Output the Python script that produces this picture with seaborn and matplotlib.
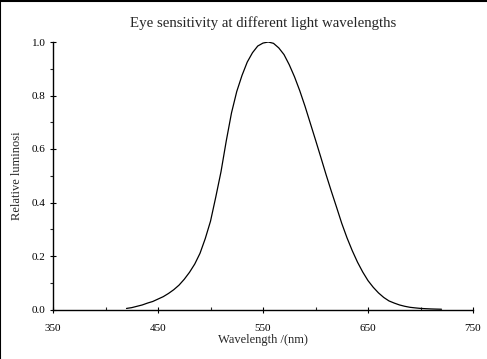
import numpy as np
import pandas as pd
import matplotlib
matplotlib.use("Agg")
import matplotlib.pyplot as plt
from matplotlib.lines import Line2D
import seaborn as sns

# Values (every 5 nm)
wavelength = [420, 425, 430, 435, 440, 445, 450, 455, 460, 465, 470, 475, 480,
              485, 490, 495, 500, 505, 510, 515, 520, 525, 530, 535, 540, 545,
              550, 555, 560, 565, 570, 575, 580, 585, 590, 595, 600, 605, 610,
              615, 620, 625, 630, 635, 640, 645, 650, 655, 660, 665, 670, 675,
              680, 685, 690, 695, 700, 705, 710, 715, 720]
luminosity = [0.004, 0.007, 0.012, 0.017, 0.024, 0.030, 0.039, 0.048, 0.060,
              0.074, 0.091, 0.113, 0.139, 0.170, 0.210, 0.265, 0.330, 0.420,
              0.515, 0.630, 0.735, 0.815, 0.875, 0.925, 0.960, 0.985, 0.996,
              1.000, 0.995, 0.978, 0.953, 0.915, 0.870, 0.818, 0.760, 0.697,
              0.634, 0.570, 0.505, 0.443, 0.383, 0.322, 0.268, 0.220, 0.177,
              0.140, 0.108, 0.083, 0.062, 0.045, 0.032, 0.024, 0.017, 0.012,
              0.0082, 0.006, 0.0041, 0.003, 0.0021, 0.0015, 0.001]

x_ticks = [350, 450, 550, 650, 750]
y_ticks = [0.0, 0.2, 0.4, 0.6, 0.8, 1.0]

df = pd.DataFrame({"Wavelength": wavelength, "Luminosity": luminosity})

sns.set_style("ticks")
plt.rcParams['font.family'] = ['Liberation Serif', 'DejaVu Serif']

fig = plt.figure(figsize=(4.87, 3.59), dpi=100)
ax = fig.add_axes([53 / 487, 49.5 / 359, 420 / 487, 267.5 / 359])

sns.lineplot(data=df, x="Wavelength", y="Luminosity", color="black",
             linewidth=0.9, ax=ax)

ax.set_xlim(350, 750)
ax.set_ylim(0, 1.0)
ax.set_xticks(x_ticks)
ax.set_yticks(y_ticks)
ax.set_xticklabels([str(t) for t in x_ticks])
ax.set_yticklabels([f"{t:.1f}" for t in y_ticks])
ax.set_xticks([400, 500, 600, 700], minor=True)
ax.set_yticks([0.1, 0.3, 0.5, 0.7, 0.9], minor=True)

ax.tick_params(axis="x", which="major", direction="inout", length=5, width=0.8,
               labelsize=8, pad=8, colors="black")
ax.tick_params(axis="x", which="minor", direction="in", length=2.5, width=0.8)
ax.tick_params(axis="y", which="major", direction="inout", length=5, width=0.8,
               labelsize=8, pad=3, colors="black")
ax.tick_params(axis="y", which="minor", direction="out", length=2, width=0.8)

sns.despine(ax=ax)
for s in ["left", "bottom"]:
    ax.spines[s].set_linewidth(1.0)
    ax.spines[s].set_color("black")

ax.set_xlabel("Wavelength /(nm)", fontsize=9, labelpad=1)
ax.set_ylabel("Relative luminosi", fontsize=9, labelpad=6)
ax.set_title("Eye sensitivity at different light wavelengths", fontsize=10.7,
             pad=11)

# frame lines at the top and left edge of the picture
fig.add_artist(Line2D([0.001, 0.001], [0, 1], transform=fig.transFigure,
                      color="black", linewidth=1.5))
fig.add_artist(Line2D([0, 1], [0.998, 0.998], transform=fig.transFigure,
                      color="black", linewidth=1.5))

fig.savefig("out.png", dpi=100, facecolor="white")
